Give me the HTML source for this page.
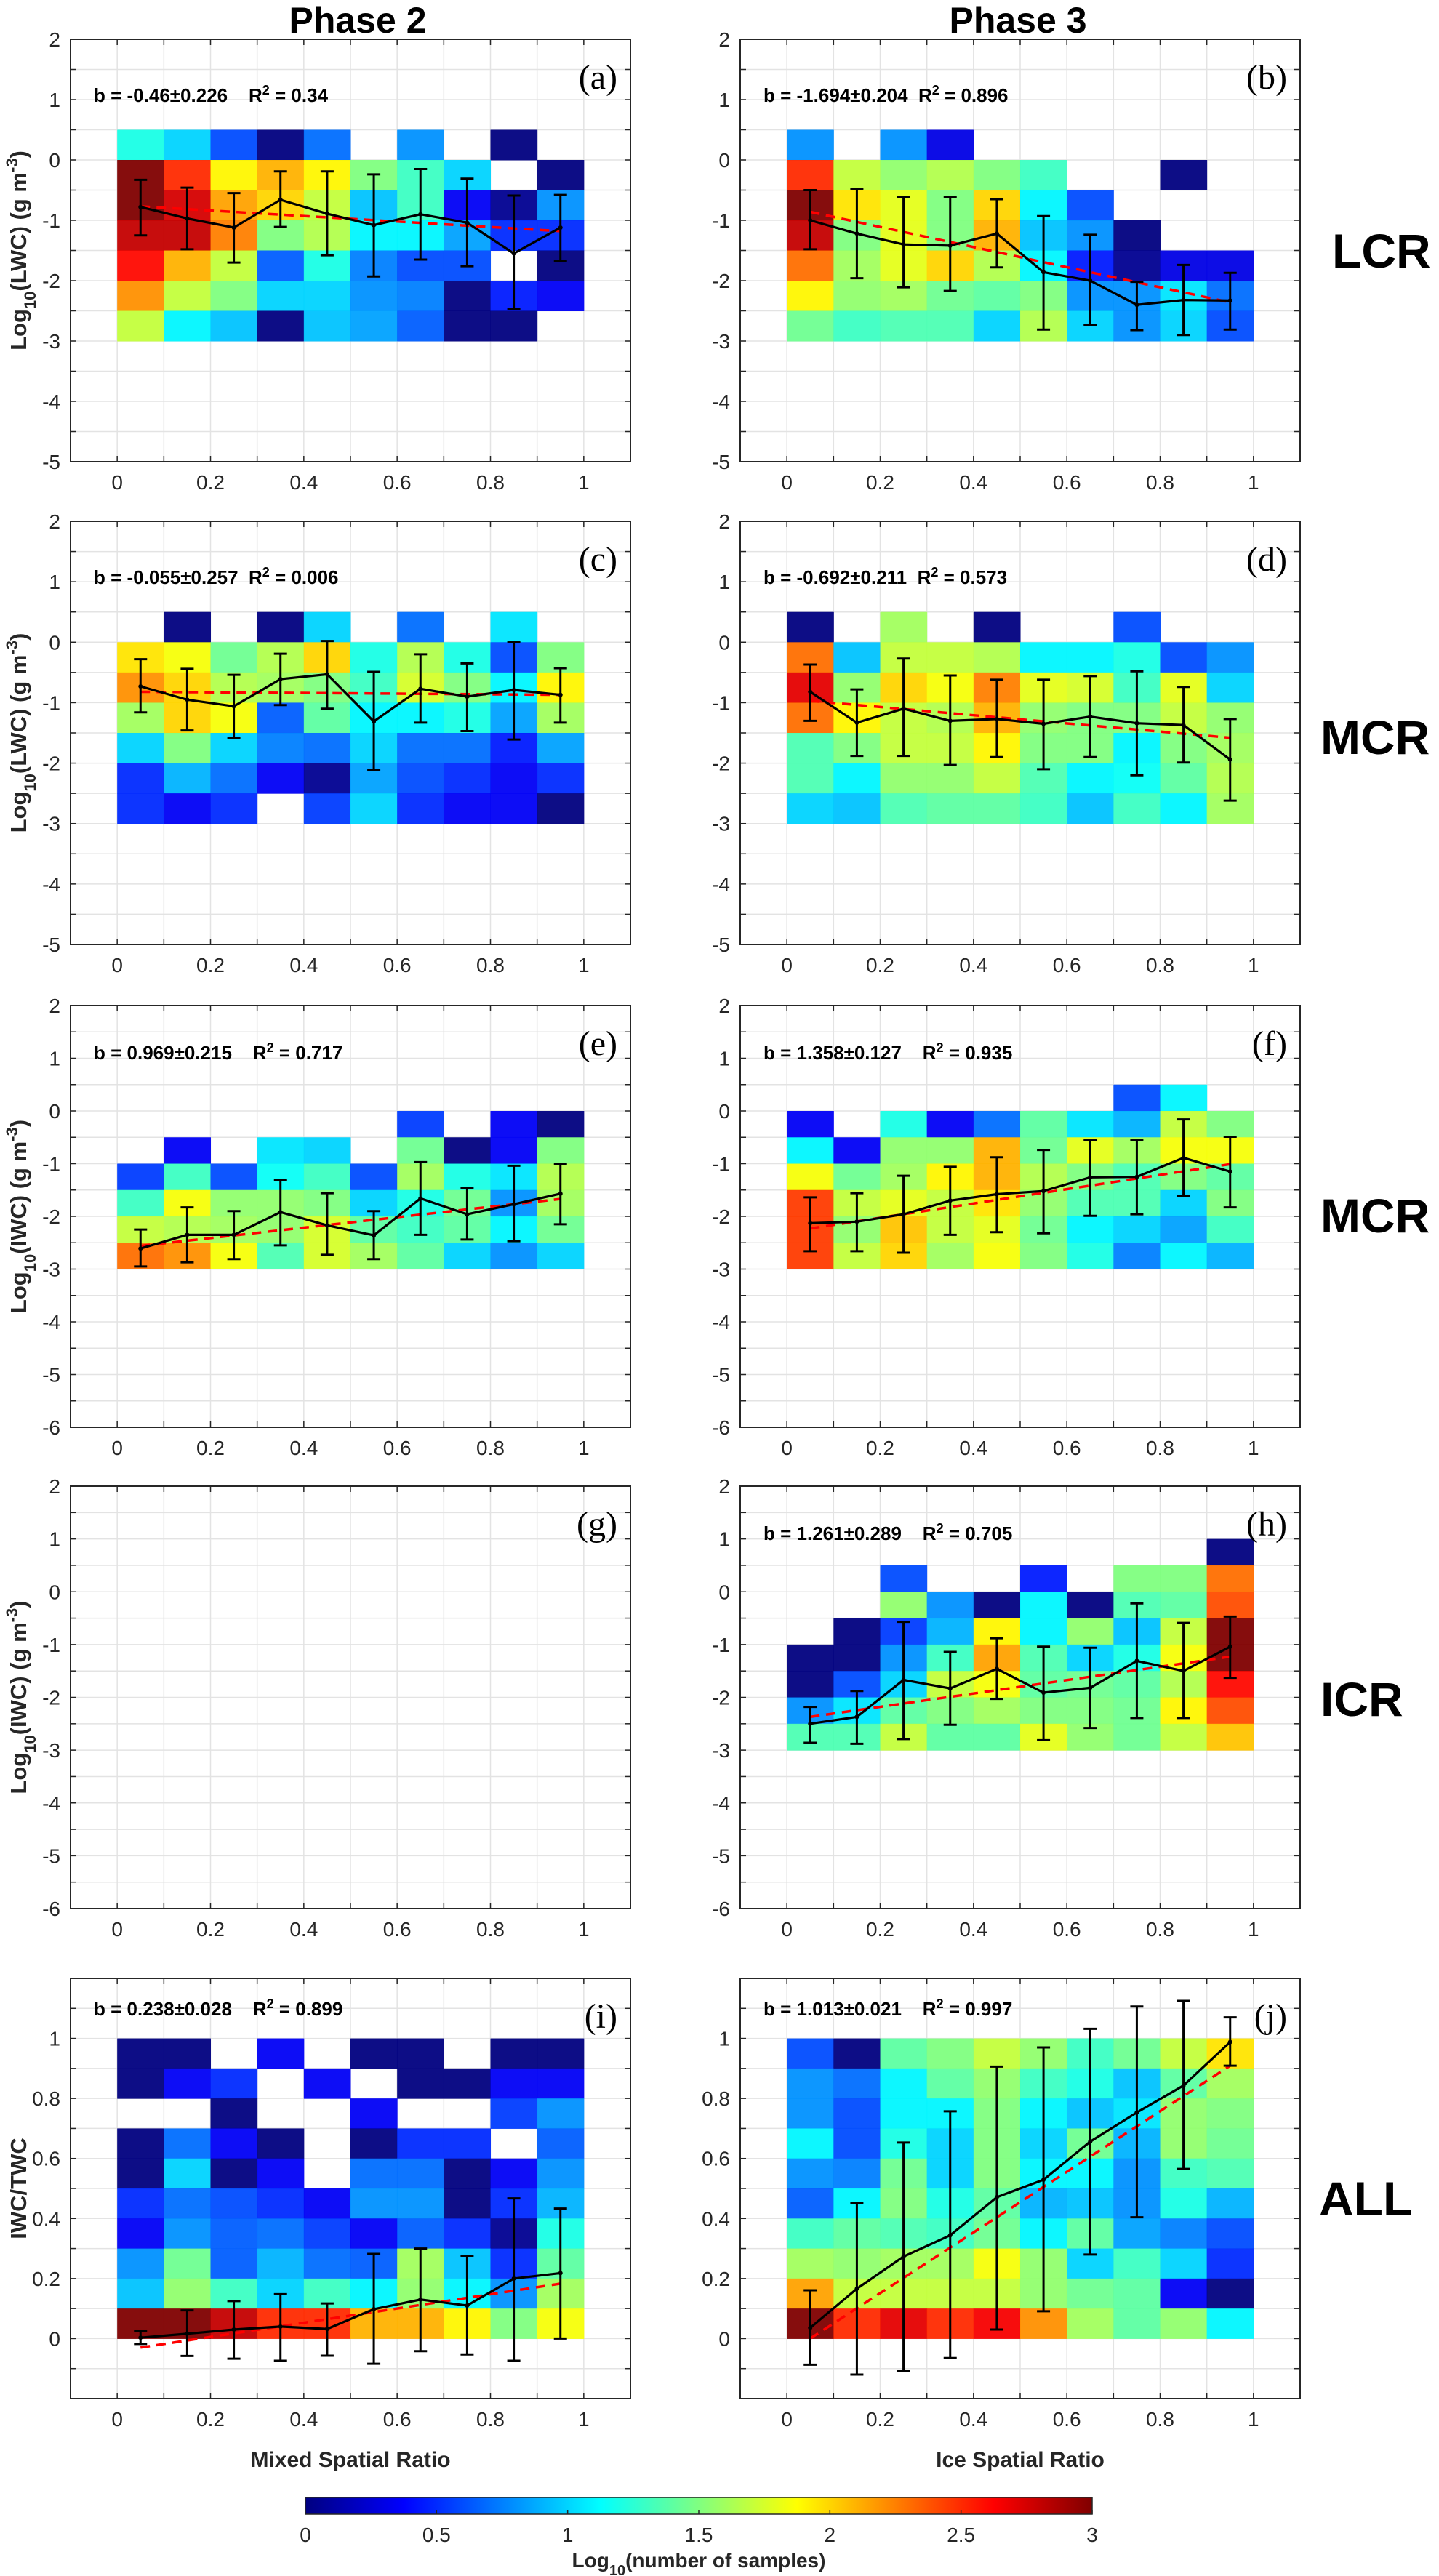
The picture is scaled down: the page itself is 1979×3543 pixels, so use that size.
<!DOCTYPE html>
<html><head><meta charset="utf-8"><title>Spatial ratio heatmaps</title>
<style>
html,body{margin:0;padding:0;background:#fff;}
svg{display:block;}
text{font-family:"Liberation Sans",Arial,sans-serif;}
</style></head>
<body>
<svg id="fig" xmlns="http://www.w3.org/2000/svg" width="1979" height="3543" viewBox="0 0 1979 3543">
<rect x="0" y="0" width="1979" height="3543" fill="#fff"/>
<text x="492" y="45" text-anchor="middle" font-size="50" font-weight="bold">Phase 2</text>
<text x="1400" y="45" text-anchor="middle" font-size="50" font-weight="bold">Phase 3</text>
<text x="1832" y="368" font-size="66" font-weight="bold">LCR</text>
<text x="1816" y="1037" font-size="66" font-weight="bold">MCR</text>
<text x="1816" y="1695" font-size="66" font-weight="bold">MCR</text>
<text x="1816" y="2360" font-size="66" font-weight="bold">ICR</text>
<text x="1814" y="3047" font-size="66" font-weight="bold">ALL</text>
<text x="482" y="3393" text-anchor="middle" font-size="30" font-weight="bold" fill="#262626">Mixed Spatial Ratio</text>
<text x="1403" y="3393" text-anchor="middle" font-size="30" font-weight="bold" fill="#262626">Ice Spatial Ratio</text>
<g id="panels"></g>
<g id="cbar"></g>
</svg>
<script>
// ---------- DATA ----------
const xCenters = [0.05,0.15,0.25,0.35,0.45,0.55,0.65,0.75,0.85,0.95];
const cbarTicks = [0,0.5,1,1.5,2,2.5,3];
const cbarTickLabels = ["0","0.5","1","1.5","2","2.5","3"];
const xTickLabels = ["0","0.2","0.4","0.6","0.8","1"];

const aCounts = [
 [1.2,1.0,0.6,0,0.7,null,0.8,null,0,null],
 [3.0,2.5,1.9,2.1,1.9,1.5,1.3,1.0,null,0],
 [3.0,2.75,2.15,2.0,1.7,0.95,1.3,0.35,0.05,0.8],
 [2.8,2.8,2.25,1.5,1.65,1.1,1.1,0.85,0.5,0.5],
 [2.6,2.1,1.7,0.65,1.2,0.75,0.6,0.6,null,0],
 [2.2,1.7,1.5,1.0,1.0,0.8,0.75,0,0.45,0.35],
 [1.7,1.1,0.95,0,0.95,0.85,0.65,0,0,null]];
const aMean = [-0.78,-0.97,-1.12,-0.66,-0.89,-1.08,-0.9,-1.04,-1.55,-1.12];
const aUpper = [-0.33,-0.46,-0.55,-0.19,-0.19,-0.24,-0.15,-0.31,-0.59,-0.58];
const aLower = [-1.25,-1.48,-1.7,-1.11,-1.58,-1.93,-1.65,-1.76,-2.47,-1.67];
const aFit = [-0.77,-1.18];

const bCounts = [
 [0.8,null,0.8,0.3,null,null,null,null,null,null],
 [2.5,1.7,1.55,1.65,1.5,1.3,null,null,0,null],
 [3.0,1.95,1.8,1.5,2.0,1.1,0.6,null,null,null],
 [2.8,1.5,1.8,1.5,2.1,0.95,0.8,0,null,null],
 [2.3,1.6,1.8,2.0,1.65,1.1,0.45,0.05,0.3,0.3],
 [1.9,1.55,1.6,1.45,1.4,1.5,0.8,0.8,1.05,0.7],
 [1.45,1.3,1.35,1.35,1.0,1.65,1.0,0.8,1.0,0.6]];
const bMean = [-1.0,-1.22,-1.4,-1.42,-1.22,-1.86,-2.0,-2.4,-2.32,-2.33];
const bUpper = [-0.5,-0.48,-0.62,-0.62,-0.65,-0.93,-1.24,-2.02,-1.74,-1.87];
const bLower = [-1.48,-1.96,-2.11,-2.17,-1.78,-2.81,-2.74,-2.82,-2.9,-2.81];
const bFit = [-0.86,-2.36];

const cCounts = [
 [null,0,null,0,1.0,null,0.7,null,1.05,null],
 [1.95,1.85,1.45,1.65,2.0,1.2,1.65,1.2,0.6,1.5],
 [2.2,2.0,1.65,1.6,1.5,1.3,1.75,1.5,1.1,1.9],
 [1.6,2.0,1.85,0.65,1.4,1.1,1.1,1.2,0.85,1.6],
 [1.0,1.5,1.0,0.75,0.7,1.0,0.7,0.7,0.45,0.85],
 [0.5,0.9,0.7,0.35,0.05,0.85,0.6,0.5,0.35,0.5],
 [0.5,0.35,0.5,null,0.55,1.0,0.5,0.35,0.35,0]];
const cMean = [-0.73,-0.95,-1.06,-0.61,-0.53,-1.31,-0.77,-0.9,-0.79,-0.87];
const cUpper = [-0.28,-0.44,-0.54,-0.19,0.02,-0.49,-0.2,-0.35,0.0,-0.43];
const cLower = [-1.16,-1.46,-1.58,-1.04,-1.1,-2.12,-1.33,-1.47,-1.61,-1.33];
const cFit = [-0.82,-0.87];

const dCounts = [
 [0,null,1.6,null,0,null,null,0.6,null,null],
 [2.3,0.95,1.7,1.7,1.65,1.1,1.1,1.2,0.6,0.8],
 [2.7,1.55,2.0,1.85,2.25,1.8,1.75,1.3,1.8,1.0],
 [2.3,1.9,1.7,1.65,2.1,1.55,1.5,1.5,1.7,1.55],
 [1.35,1.5,1.7,1.7,1.9,1.5,1.5,1.1,1.5,1.6],
 [1.35,1.1,1.55,1.55,1.7,1.35,1.1,1.15,1.4,1.65],
 [1.0,0.95,1.35,1.4,1.4,1.3,0.95,1.3,1.1,1.6]];
const dMean = [-0.82,-1.33,-1.1,-1.3,-1.27,-1.35,-1.23,-1.34,-1.37,-1.94];
const dUpper = [-0.37,-0.78,-0.27,-0.55,-0.62,-0.62,-0.56,-0.48,-0.74,-1.27];
const dLower = [-1.3,-1.88,-1.88,-2.03,-1.9,-2.1,-1.9,-2.2,-1.99,-2.62];
const dFit = [-0.97,-1.58];

const eCounts = [
 [null,null,null,null,null,null,0.55,null,0.35,0],
 [null,0.35,null,1.05,1.0,null,1.45,0,0.35,1.5],
 [0.55,1.3,0.6,1.15,1.3,0.6,1.6,1.2,1.05,1.65],
 [1.3,1.85,1.55,1.55,1.5,1.0,1.2,1.45,0.8,1.6],
 [1.7,1.65,1.6,1.55,1.75,1.4,1.3,1.4,1.1,1.45],
 [2.3,2.2,1.85,1.35,1.75,1.6,1.4,1.0,0.8,1.0]];
const eMean = [-2.61,-2.35,-2.35,-1.92,-2.17,-2.36,-1.66,-1.96,-1.77,-1.57];
const eUpper = [-2.25,-1.83,-1.9,-1.31,-1.56,-1.9,-0.97,-1.46,-1.04,-1.01];
const eLower = [-2.95,-2.87,-2.81,-2.55,-2.73,-2.81,-2.35,-2.44,-2.47,-2.15];
const eFit = [-2.56,-1.67];

const fCounts = [
 [null,null,null,null,null,null,null,0.6,1.1,null],
 [0.35,null,1.2,0.35,0.7,1.4,1.05,0.9,1.7,1.5],
 [1.1,0.35,1.55,1.55,2.1,1.45,1.8,1.6,1.85,1.85],
 [1.85,1.45,1.6,1.9,2.1,1.65,1.5,1.35,1.5,1.4],
 [2.45,1.7,1.8,1.7,1.95,1.55,1.35,1.35,1.0,1.5],
 [2.45,1.55,2.05,1.7,1.8,1.45,1.1,1.0,0.85,1.3],
 [2.45,1.7,2.0,1.6,1.85,1.5,1.2,0.75,1.1,0.9]];
const fMean = [-2.13,-2.1,-1.96,-1.7,-1.58,-1.52,-1.26,-1.25,-0.89,-1.15];
const fUpper = [-1.64,-1.56,-1.23,-1.06,-0.88,-0.74,-0.55,-0.55,-0.16,-0.49];
const fLower = [-2.66,-2.66,-2.69,-2.35,-2.3,-2.32,-1.99,-1.96,-1.62,-1.83];
const fFit = [-2.23,-1.01];

const hCounts = [
 [null,null,null,null,null,null,null,null,null,0],
 [null,null,0.6,null,null,0.45,null,1.5,1.5,2.3],
 [null,null,1.55,0.8,0,1.1,0,1.35,1.4,2.4],
 [null,0,0.55,0.9,1.9,1.1,1.55,0.95,1.7,3.0],
 [0,0,0.8,1.3,2.15,1.35,1.0,1.2,1.85,3.0],
 [0,0.6,1.0,1.7,1.85,1.4,1.45,1.4,1.65,2.6],
 [0.8,1.05,1.4,1.5,1.6,1.5,1.5,1.45,1.9,2.4],
 [1.35,1.35,1.7,1.4,1.4,1.8,1.55,1.45,1.7,2.05]];
const hMean = [-2.5,-2.37,-1.67,-1.83,-1.46,-1.91,-1.82,-1.31,-1.5,-1.04];
const hUpper = [-2.18,-1.88,-0.57,-1.14,-0.88,-1.04,-1.06,-0.22,-0.59,-0.47];
const hLower = [-2.86,-2.88,-2.79,-2.52,-2.03,-2.81,-2.58,-2.39,-2.39,-1.63];
const hFit = [-2.37,-1.23];

const iCounts = [
 [0,0,null,0.35,null,0,0,null,0,0],
 [0,0.35,0.5,null,0.35,null,0,0,0.35,0.35],
 [null,null,0,null,null,0.35,null,null,0.55,0.8],
 [0,0.7,0.35,0,null,0,0.5,0.5,null,0.65],
 [0,1.0,0,0.35,null,0.7,0.7,0,0.35,0.8],
 [0.5,0.7,0.6,0.5,0.35,0.8,0.8,0,0.5,0.9],
 [0.35,0.8,0.65,0.7,0.55,0.35,0.65,0.5,0.05,1.2],
 [0.8,1.45,0.65,0.9,0.7,0.65,1.6,0.95,0.5,1.4],
 [0.95,1.55,1.3,1.0,1.3,1.1,1.55,1.1,0.8,1.6],
 [3.0,3.0,2.8,2.5,2.5,2.1,2.1,1.9,1.5,1.85]];
const iMean = [0.003,0.016,0.03,0.04,0.032,0.098,0.13,0.11,0.2,0.218];
const iUpper = [0.024,0.094,0.125,0.148,0.117,0.282,0.3,0.276,0.467,0.433];
const iLower = [-0.018,-0.058,-0.067,-0.074,-0.057,-0.084,-0.042,-0.053,-0.074,0.0];
const iFit = [-0.03,0.183];

const jCounts = [
 [0.6,0,1.4,1.5,1.7,1.55,1.3,1.45,1.7,1.95],
 [0.8,0.7,1.1,1.4,1.55,1.3,1.2,0.95,1.4,1.6],
 [0.8,0.6,1.1,1.1,1.5,1.1,0.95,1.05,1.55,1.5],
 [1.1,0.6,1.2,1.0,1.5,1.0,1.45,0.9,1.55,1.45],
 [0.8,0.75,1.45,1.0,1.5,1.1,1.1,0.8,1.3,1.35],
 [0.65,1.1,1.5,1.2,1.4,0.9,0.95,0.8,1.2,0.9],
 [1.3,1.4,1.35,1.3,1.45,1.1,1.4,0.85,0.75,0.6],
 [1.6,1.55,1.6,1.6,1.85,1.55,1.0,1.3,1.0,0.5],
 [2.15,1.7,1.7,1.7,1.7,1.55,1.45,1.4,0.35,0],
 [3.0,2.5,2.7,2.5,2.65,2.2,1.6,1.4,1.55,1.1]];
const jMean = [0.036,0.166,0.273,0.344,0.471,0.529,0.656,0.753,0.843,0.988];
const jUpper = [0.161,0.451,0.653,0.757,0.906,0.97,1.032,1.106,1.125,1.07];
const jLower = [-0.087,-0.12,-0.107,-0.065,0.03,0.091,0.28,0.404,0.565,0.909];
const jFit = [0.0,0.909];

// ---------- LAYOUT ----------
const NS = "http://www.w3.org/2000/svg";
const colBox = [[97,867],[1018,1788]];
const rowBox = [[54,635],[717,1299],[1383,1963],[2044,2625],[2721,3299]];
const rowYlim = [[-5,2],[-5,2],[-6,2],[-6,2],[-0.2,1.2]];
const yLabelsText = ["LWC","LWC","IWC","IWC",null];

const panels = [
 {id:"a",col:0,row:0,counts:aCounts,top:0.5,h:0.5,mean:aMean,up:aUpper,lo:aLower,fit:aFit,b:"b = -0.46±0.226",r2:"0.34",gap:"    "},
 {id:"b",col:1,row:0,counts:bCounts,top:0.5,h:0.5,mean:bMean,up:bUpper,lo:bLower,fit:bFit,b:"b = -1.694±0.204",r2:"0.896",gap:"  "},
 {id:"c",col:0,row:1,counts:cCounts,top:0.5,h:0.5,mean:cMean,up:cUpper,lo:cLower,fit:cFit,b:"b = -0.055±0.257",r2:"0.006",gap:"  "},
 {id:"d",col:1,row:1,counts:dCounts,top:0.5,h:0.5,mean:dMean,up:dUpper,lo:dLower,fit:dFit,b:"b = -0.692±0.211",r2:"0.573",gap:"  "},
 {id:"e",col:0,row:2,counts:eCounts,top:0,h:0.5,mean:eMean,up:eUpper,lo:eLower,fit:eFit,b:"b = 0.969±0.215",r2:"0.717",gap:"    "},
 {id:"f",col:1,row:2,counts:fCounts,top:0.5,h:0.5,mean:fMean,up:fUpper,lo:fLower,fit:fFit,b:"b = 1.358±0.127",r2:"0.935",gap:"    "},
 {id:"g",col:0,row:3,counts:null},
 {id:"h",col:1,row:3,counts:hCounts,top:1.0,h:0.5,mean:hMean,up:hUpper,lo:hLower,fit:hFit,b:"b = 1.261±0.289",r2:"0.705",gap:"    "},
 {id:"i",col:0,row:4,counts:iCounts,top:1.0,h:0.1,mean:iMean,up:iUpper,lo:iLower,fit:iFit,b:"b = 0.238±0.028",r2:"0.899",gap:"    "},
 {id:"j",col:1,row:4,counts:jCounts,top:1.0,h:0.1,mean:jMean,up:jUpper,lo:jLower,fit:jFit,b:"b = 1.013±0.021",r2:"0.997",gap:"    "}
];

function jet(v){
  const t = Math.max(0,Math.min(1,v/3));
  const c = x => Math.round(255*Math.max(0,Math.min(1,x)));
  return "rgb("+c(1.5-Math.abs(4*t-3))+","+c(1.5-Math.abs(4*t-2))+","+c(1.5-Math.abs(4*t-1))+")";
}
function mk(tag, attrs, parent){
  const e = document.createElementNS(NS, tag);
  for (const k in attrs) e.setAttribute(k, attrs[k]);
  parent.appendChild(e);
  return e;
}

const root = document.getElementById("panels");

panels.forEach(p => {
  const [L,R] = colBox[p.col];
  const [T,B] = rowBox[p.row];
  const [ymin,ymax] = rowYlim[p.row];
  const sx = v => L + (v + 0.1) / 1.2 * (R - L);
  const sy = v => B - (v - ymin) / (ymax - ymin) * (B - T);
  const g = mk("g", {}, root);
  
  

  const grid = mk("g", {stroke:"#e3e3e3","stroke-width":1.5}, g);
  
  
  for (let k = 0; k <= 10; k++) {
    const x = sx(k/10);
    mk("line", {x1:x,x2:x,y1:T,y2:B}, grid);
  }
  const ystep = p.row === 4 ? 0.1 : 0.5;
  const nY = Math.round((ymax - ymin) / ystep);
  for (let k = 1; k < nY; k++) {
    const y = sy(ymin + k*ystep);
    mk("line", {x1:L,x2:R,y1:y,y2:y}, grid);
  }

  if (p.counts) {
    const cells = mk("g", {}, g);
    
    
    p.counts.forEach((rowv, ri) => {
      const y0 = p.top - ri*p.h, y1 = y0 - p.h;
      rowv.forEach((v, ci) => {
        if (v === null) return;
        const r = mk("rect", {x:sx(ci/10), y:sy(y0), width:sx((ci+1)/10)-sx(ci/10)+0.5, height:sy(y1)-sy(y0)+0.5, fill:jet(v), "fill-opacity":0.95}, cells);
        
        
      });
    });
  }

  const ticks = mk("g", {stroke:"#262626","stroke-width":1.5}, g);
  for (let k = 0; k <= 10; k++) {
    const x = sx(k/10);
    mk("line", {x1:x,x2:x,y1:B,y2:B-8}, ticks);
    mk("line", {x1:x,x2:x,y1:T,y2:T+8}, ticks);
  }
  for (let k = 1; k < nY; k++) {
    const y = sy(ymin + k*ystep);
    mk("line", {x1:L,x2:L+8,y1:y,y2:y}, ticks);
    mk("line", {x1:R,x2:R-8,y1:y,y2:y}, ticks);
  }

  xTickLabels.forEach((s, k) => {
    const t = mk("text", {x:sx(k*0.2), y:B+38, "text-anchor":"middle", "font-size":28, fill:"#262626"}, g);
    t.textContent = s;
    
    
  });
  if (p.row === 4) {
    for (let k = 0; k <= 5; k++) {
      const v = k*0.2;
      const t = mk("text", {x:L-14, y:sy(v)+10, "text-anchor":"end", "font-size":28, fill:"#262626"}, g);
      t.textContent = k === 5 ? "1" : (k === 0 ? "0" : v.toFixed(1));
      
      
    }
  } else {
    for (let v = ymin; v <= ymax; v++) {
      const t = mk("text", {x:L-14, y:sy(v)+10, "text-anchor":"end", "font-size":28, fill:"#262626"}, g);
      t.textContent = String(v);
      
      
    }
  }

  const fr = mk("rect", {x:L,y:T,width:R-L,height:B-T,fill:"none",stroke:"#262626","stroke-width":2}, g);
  
  

  if (p.col === 0) {
    const cy = (T+B)/2;
    const t = mk("text", {x:0,y:0,"text-anchor":"middle","font-size":31,"font-weight":"bold",fill:"#262626",transform:"translate(36,"+cy+") rotate(-90)"}, g);
    
    
    if (yLabelsText[p.row]) {
      t.innerHTML = 'Log<tspan baseline-shift="sub" font-size="22">10</tspan>(' + yLabelsText[p.row] + ') (g m<tspan baseline-shift="super" font-size="22">-3</tspan>)';
    } else {
      t.textContent = "IWC/TWC";
    }
  }

  const pl = mk("text", {x:R-18, y:T+68, "text-anchor":"end", "font-size":48, style:"font-family:'Liberation Serif','Times New Roman',serif"}, g);
  pl.textContent = "(" + p.id + ")";
  
  

  if (!p.counts) return;

  const annY = p.row < 2 ? T+86 : (p.row < 4 ? T+74 : T+51);
  const an = mk("text", {x:L+32, y:annY, "font-size":26, "font-weight":"bold", style:"white-space:pre"}, g);
  
  
  an.innerHTML = p.b + p.gap + 'R<tspan baseline-shift="super" font-size="18">2</tspan> = ' + p.r2;

  const fl = mk("line", {x1:sx(xCenters[0]), y1:sy(p.fit[0]), x2:sx(xCenters[9]), y2:sy(p.fit[1]), stroke:"#ff0000", "stroke-width":3.5, "stroke-dasharray":"13,9"}, g);
  
  

  const eb = mk("g", {stroke:"#000","stroke-width":3}, g);
  
  
  xCenters.forEach((xc, k) => {
    const x = sx(xc);
    mk("line", {x1:x,x2:x,y1:sy(p.up[k]),y2:sy(p.lo[k])}, eb);
    mk("line", {x1:x-9,x2:x+9,y1:sy(p.up[k]),y2:sy(p.up[k])}, eb);
    mk("line", {x1:x-9,x2:x+9,y1:sy(p.lo[k]),y2:sy(p.lo[k])}, eb);
  });
  const pts = xCenters.map((xc,k) => sx(xc).toFixed(1) + "," + sy(p.mean[k]).toFixed(1)).join(" ");
  const ml = mk("polyline", {points:pts, fill:"none", stroke:"#000", "stroke-width":3.2}, g);
  
  
  xCenters.forEach((xc, k) => {
    const d = mk("circle", {cx:sx(xc), cy:sy(p.mean[k]), r:3, fill:"#000"}, g);
    
    
  });
});

// ---------- COLORBAR ----------
const cb = document.getElementById("cbar");
const CL = 420, CR = 1502, CT = 3435, CB = 3458;
const cx = v => CL + v/3*(CR-CL);
const defs = mk("defs", {}, cb);
const grad = mk("linearGradient", {id:"jetgrad", x1:0, x2:1, y1:0, y2:0}, defs);
for (let k = 0; k <= 24; k++) {
  mk("stop", {offset:(k/24), "stop-color":jet(3*k/24)}, grad);
}
const cbr = mk("rect", {x:CL, y:CT, width:CR-CL, height:CB-CT, fill:"url(#jetgrad)", stroke:"#262626", "stroke-width":1.5}, cb);


cbarTicks.forEach((v, k) => {
  mk("line", {x1:cx(v), x2:cx(v), y1:CB, y2:CB-6, stroke:"#262626", "stroke-width":1.5}, cb);
  const t = mk("text", {x:cx(v), y:3496, "text-anchor":"middle", "font-size":28, fill:"#262626"}, cb);
  t.textContent = cbarTickLabels[k];
  
  
});
const cbt = mk("text", {x:961, y:3531, "text-anchor":"middle", "font-size":28, "font-weight":"bold", fill:"#262626"}, cb);


cbt.innerHTML = 'Log<tspan baseline-shift="sub" font-size="20">10</tspan>(number of samples)';
</script>
</body></html>
